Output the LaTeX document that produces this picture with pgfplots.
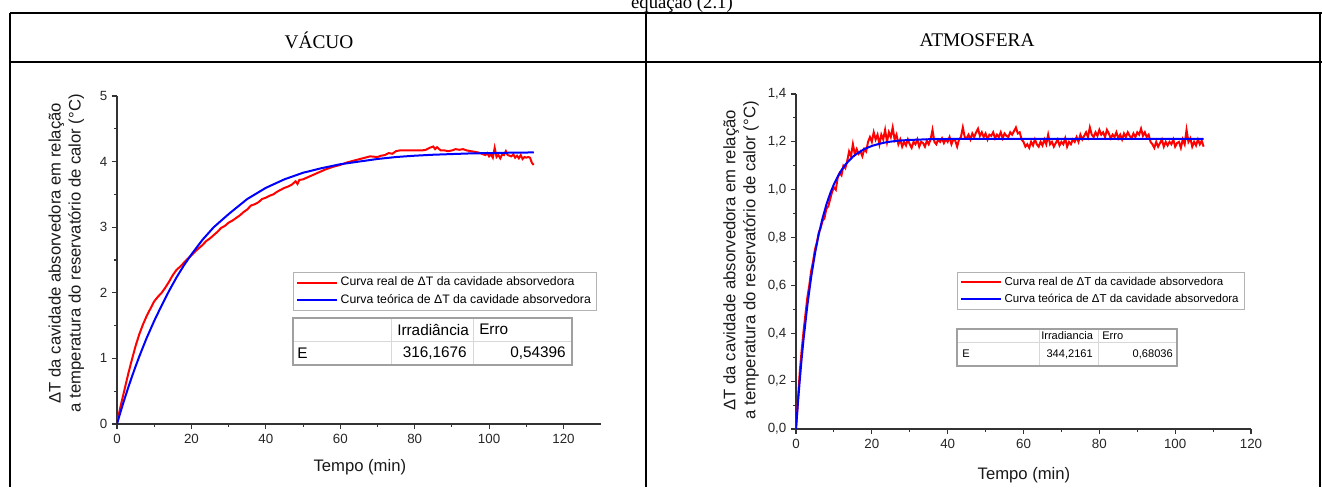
\documentclass[border=0pt]{standalone}
\usepackage{fontspec}
\setmainfont{Liberation Sans}
\newfontfamily\timesfont{Liberation Serif}
\usepackage{pgfplots}
\pgfplotsset{compat=1.18}
\definecolor{axgray}{HTML}{333333}
\definecolor{tblborder}{HTML}{A0A0A0}
\definecolor{tblinner}{HTML}{D8D8D8}
\pgfplotsset{
  mystyle/.style={
    scale only axis,
    axis x line*=bottom, axis y line*=left,
    tick align=outside,
    major tick length=3.75pt, minor tick length=2.2pt,
    minor x tick num=1, minor y tick num=1,
    every tick/.style={axgray, line width=0.8pt},
    axis line style={axgray, line width=0.9pt},
    tick label style={font=\fontsize{10}{12}\selectfont, text=black!85},
    /pgf/number format/assume math mode=true,
    label style={font=\fontsize{12.5}{15}\selectfont, text=black!90},
    legend cell align=left,
    legend image code/.code={\draw[##1, line width=1.5pt] (0pt,0pt) -- (30pt,0pt);},
  }
}
\begin{document}
\begin{tikzpicture}[x=0.75pt,y=0.75pt]
\useasboundingbox (0,0) rectangle (1322,487);
% ---------- frame of the table ----------
\draw[line width=1.5pt] (10,473.7) -- (1322,473.7);
\draw[line width=1.5pt] (10,425.3) -- (1322,425.3);
\draw[line width=1.5pt] (10,474.4) -- (10,0);
\draw[line width=1.5pt] (646,474.4) -- (646,0);
\draw[line width=1.5pt] (1320,474.4) -- (1320,0);
\node[font=\timesfont\fontsize{14}{16}\selectfont, anchor=base east, inner sep=0] at (733,479) {equação (2.1)};
\node[font=\timesfont\fontsize{14.5}{16}\selectfont] at (319,447) {VÁCUO};
\node[font=\timesfont\fontsize{14.5}{16}\selectfont] at (977,447) {ATMOSFERA};

% ---------- left axis (vacuum) ----------
\begin{axis}[mystyle,
  at={(87.75pt,47.25pt)}, anchor=south west,
  width=362.8pt, height=246pt,
  xmin=0, xmax=130, ymin=0, ymax=5,
  xtick={0,20,...,120}, ytick={0,1,...,5},
  xlabel={Tempo (min)},
  xlabel style={at={(axis description cs:0.502,-0.131)}, anchor=center},
  ylabel={ΔT da cavidade absorvedora em relação\\a temperatura do reservatório de calor (°C)},
  ylabel style={at={(axis description cs:-0.105,0.521)}, anchor=center, align=center},
  legend style={at={(axis description cs:0.364,0.463)}, anchor=north west,
    draw=black!30, fill=white, font=\fontsize{9.2}{11}\selectfont,
    inner xsep=2pt, inner ysep=1.5pt, row sep=1pt},
]
\addplot[red, line width=1.5pt] coordinates {
(0,0.02) (0.5,0.15) (1,0.28) (1.5,0.40) (2,0.52) (3,0.76) (4,0.98) (5,1.19) (6,1.37) (7,1.52) (8,1.65) (9,1.76) (10,1.87) (11,1.94) (12,2.00) (13,2.08) (14,2.17) (15,2.27) (16,2.35) (17,2.40) (18,2.46) (19,2.52) (20,2.57) (21,2.63) (22,2.68) (23,2.73) (24,2.79) (25,2.83) (26,2.88) (27,2.93) (28,2.99) (29,3.02) (30,3.07) (31,3.10) (32,3.14) (33,3.18) (34,3.23) (35,3.27) (36,3.33) (37,3.35) (38,3.38) (39,3.43) (40,3.45) (41,3.48) (42,3.50) (43,3.54) (44,3.57) (45,3.60) (46,3.62) (47,3.65) (48,3.70) (48.5,3.66) (49,3.72) (50,3.73) (52,3.78) (54,3.83) (56,3.88) (58,3.92) (60,3.95) (62,3.99) (64,4.02) (66,4.05) (68,4.08) (70,4.07) (71,4.09) (72,4.10) (73,4.13) (74,4.12) (75,4.16) (76,4.17) (78,4.17) (80,4.17) (82,4.17) (83,4.18) (84,4.21) (85,4.23) (85.5,4.19) (86,4.22) (87,4.17) (88,4.17) (89,4.16) (90,4.17) (91,4.19) (92,4.18) (93,4.19) (94,4.17) (95,4.16) (96,4.15) (97,4.14) (98,4.12) (99,4.10) (99.5,4.13) (100,4.08) (100.5,4.11) (101,4.06) (101.5,4.21) (102,4.07) (102.5,4.10) (103,4.05) (103.5,4.11) (104,4.10) (104.5,4.16) (105,4.10) (106,4.08) (106.5,4.11) (107,4.06) (107.5,4.09) (108,4.05) (108.5,4.10) (109,4.04) (109.5,4.07) (110,4.06) (110.5,4.07) (111,4.06) (111.5,3.98) (112,3.95)
};
\addlegendentry{Curva real de ΔT da cavidade absorvedora}
\addplot[blue, line width=1.5pt] coordinates {
(0,0) (1,0.193) (2,0.377) (3,0.552) (4,0.720) (5,0.879) (6,1.031) (8,1.315) (10,1.572) (12,1.807) (14,2.030) (16,2.235) (18,2.420) (20,2.585) (23,2.810) (26,3.000) (30,3.200) (35,3.430) (40,3.600) (45,3.730) (50,3.830) (55,3.900) (60,3.960) (65,4.000) (70,4.040) (75,4.070) (80,4.090) (85,4.105) (90,4.115) (95,4.125) (100,4.130) (105,4.135) (112,4.140)
};
\addlegendentry{Curva teórica de ΔT da cavidade absorvedora}
\end{axis}

% ---------- right axis (atmosphere) ----------
\begin{axis}[mystyle,
  at={(597pt,43.5pt)}, anchor=south west,
  width=341.25pt, height=251.25pt,
  xmin=0, xmax=120, ymin=0, ymax=1.4,
  xtick={0,20,...,120}, ytick={0,0.2,...,1.4},
  yticklabel style={/pgf/number format/.cd, fixed, fixed zerofill, precision=1, use comma},
  xlabel={Tempo (min)},
  xlabel style={at={(axis description cs:0.501,-0.137)}, anchor=center},
  ylabel={ΔT da cavidade absorvedora em relação\\a temperatura do reservatório de calor (°C)},
  ylabel style={at={(axis description cs:-0.121,0.504)}, anchor=center, align=center},
  legend style={at={(axis description cs:0.354,0.469)}, anchor=north west,
    draw=black!30, fill=white, font=\fontsize{8.6}{10.5}\selectfont,
    inner xsep=2pt, inner ysep=1.5pt, row sep=1pt},
]
\addplot[red, line width=1.5pt] coordinates {
(0,0.0) (0.5,0.12) (1,0.24) (1.5,0.33) (2,0.41) (2.5,0.48) (3,0.55) (3.5,0.60) (4,0.66) (4.5,0.70) (5,0.75) (5.5,0.78) (6,0.82) (6.5,0.84) (7,0.87) (7.5,0.88) (8,0.92) (8.5,0.93) (9,0.96) (9.5,0.99) (10,1.01) (10.5,1.00) (11,1.05) (11.5,1.07) (12,1.06) (12.5,1.10) (13,1.09) (13.5,1.12) (14,1.16) (14.5,1.14) (15,1.19) (15.5,1.15) (16,1.17) (16.5,1.15) (17,1.16) (17.5,1.14) (18,1.17) (18.5,1.16) (19,1.20) (19.5,1.22) (20,1.20) (20.5,1.24) (21,1.21) (21.5,1.23)
(22,1.19) (22.5,1.23) (23,1.21) (23.5,1.25) (24,1.20) (24.5,1.24) (25,1.22) (25.5,1.26) (26,1.21) (26.5,1.23) (27,1.19) (27.5,1.21) (28,1.18) (28.5,1.20) (29,1.185) (29.5,1.21) (30,1.19) (30.5,1.175) (31,1.20) (31.5,1.19) (32,1.21) (32.5,1.18) (33,1.20) (33.5,1.195) (34,1.18) (34.5,1.205) (35,1.19) (35.5,1.21) (36,1.25) (36.5,1.20) (37,1.19) (37.5,1.21) (38,1.20) (38.5,1.215) (39,1.195) (39.5,1.21) (40,1.20) (40.5,1.22) (41,1.19) (41.5,1.21) (42,1.205) (42.5,1.18) (43,1.21) (43.5,1.22) (44,1.26) (44.5,1.22) (45,1.215) (45.5,1.23) (46,1.21) (46.5,1.235) (47,1.22) (47.5,1.24) (48,1.255) (48.5,1.225) (49,1.24) (49.5,1.22) (50,1.235) (50.5,1.21) (51,1.23) (51.5,1.225) (52,1.24) (52.5,1.215) (53,1.23) (53.5,1.22) (54,1.24) (54.5,1.215) (55,1.235) (55.5,1.225) (56,1.22) (56.5,1.24) (57,1.23) (57.5,1.245) (58,1.26) (58.5,1.235) (59,1.24) (59.5,1.21)
(60,1.20) (60.5,1.18) (61,1.19) (61.5,1.175) (62,1.20) (62.5,1.185) (63,1.21) (63.5,1.19) (64,1.18) (64.5,1.20) (65,1.185) (65.5,1.21) (66,1.19) (66.5,1.23) (67,1.19) (67.5,1.20) (68,1.18) (68.5,1.195) (69,1.21) (69.5,1.185) (70,1.20) (70.5,1.19) (71,1.215) (71.5,1.18) (72,1.20) (72.5,1.19) (73,1.21) (73.5,1.20) (74,1.22) (74.5,1.20) (75,1.23) (75.5,1.21) (76,1.225) (76.5,1.24) (77,1.22) (77.5,1.26) (78,1.23) (78.5,1.22) (79,1.24) (79.5,1.225) (80,1.25) (80.5,1.23) (81,1.24) (81.5,1.22) (82,1.25) (82.5,1.235) (83,1.215) (83.5,1.23) (84,1.22) (84.5,1.24) (85,1.215) (85.5,1.23) (86,1.21) (86.5,1.235) (87,1.22) (87.5,1.24) (88,1.225) (88.5,1.215) (89,1.235) (89.5,1.22) (90,1.24) (90.5,1.23) (91,1.255) (91.5,1.225) (92,1.24) (92.5,1.22) (93,1.23) (93.5,1.20)
(94,1.19) (94.5,1.175) (95,1.20) (95.5,1.18) (96,1.195) (96.5,1.21) (97,1.18) (97.5,1.20) (98,1.185) (98.5,1.20) (99,1.19) (99.5,1.21) (100,1.18) (100.5,1.195) (101,1.20) (101.5,1.175) (102,1.21) (102.5,1.19) (103,1.25) (103.5,1.20) (104,1.215) (104.5,1.18) (105,1.20) (105.5,1.185) (106,1.21) (106.5,1.19) (107,1.205) (107.5,1.18)
};
\addlegendentry{Curva real de ΔT da cavidade absorvedora}
\addplot[blue, line width=1.5pt] coordinates {
(0,0) (0.5,0.107) (1,0.205) (1.5,0.295) (2,0.376) (3,0.517) (4,0.635) (5,0.733) (6,0.814) (7,0.881) (8,0.937) (9,0.984) (10,1.023) (11,1.055) (12,1.082) (13,1.104) (14,1.122) (15,1.138) (16,1.150) (18,1.170) (20,1.183) (22,1.192) (24,1.199) (27,1.205) (30,1.208) (35,1.211) (40,1.212) (50,1.213) (60,1.213) (70,1.213) (80,1.213) (90,1.213) (100,1.213) (107.5,1.213)
};
\addlegendentry{Curva teórica de ΔT da cavidade absorvedora}
\end{axis}

% ---------- result tables ----------
\begin{scope}[line width=0.6pt]
\draw[tblinner] (391,169) -- (391,122);
\draw[tblinner] (473,169) -- (473,122);
\draw[tblinner] (293,146) -- (572,146);
\draw[black!55, line width=1.2pt] (294,121.5) -- (572.5,121.5) -- (572.5,168);
\draw[tblborder, line width=1pt] (293,169) rectangle (572,122);
\end{scope}
\begin{scope}[font=\fontsize{11.5}{13}\selectfont, inner sep=0pt]
\node[anchor=west] at (397,157.5) {Irradiância};
\node[anchor=west] at (479,157.5) {Erro};
\node[anchor=west] at (297,134) {E};
\node[anchor=east] at (467,134) {316,1676};
\node[anchor=east] at (566,134) {0,54396};
\end{scope}

\begin{scope}[line width=0.6pt]
\draw[tblinner] (1039,158) -- (1039,121);
\draw[tblinner] (1098,158) -- (1098,121);
\draw[tblinner] (957,145) -- (1177,145);
\draw[black!55, line width=1.2pt] (958,120.5) -- (1177.5,120.5) -- (1177.5,157);
\draw[tblborder, line width=1pt] (957,158) rectangle (1177,121);
\end{scope}
\begin{scope}[font=\fontsize{8.3}{10}\selectfont, inner sep=0pt]
\node[anchor=west] at (1041,151.5) {Irradiancia};
\node[anchor=west] at (1102,151.5) {Erro};
\node[anchor=west] at (962,133) {E};
\node[anchor=east] at (1093,133) {344,2161};
\node[anchor=east] at (1173,133) {0,68036};
\end{scope}
\end{tikzpicture}
\end{document}
